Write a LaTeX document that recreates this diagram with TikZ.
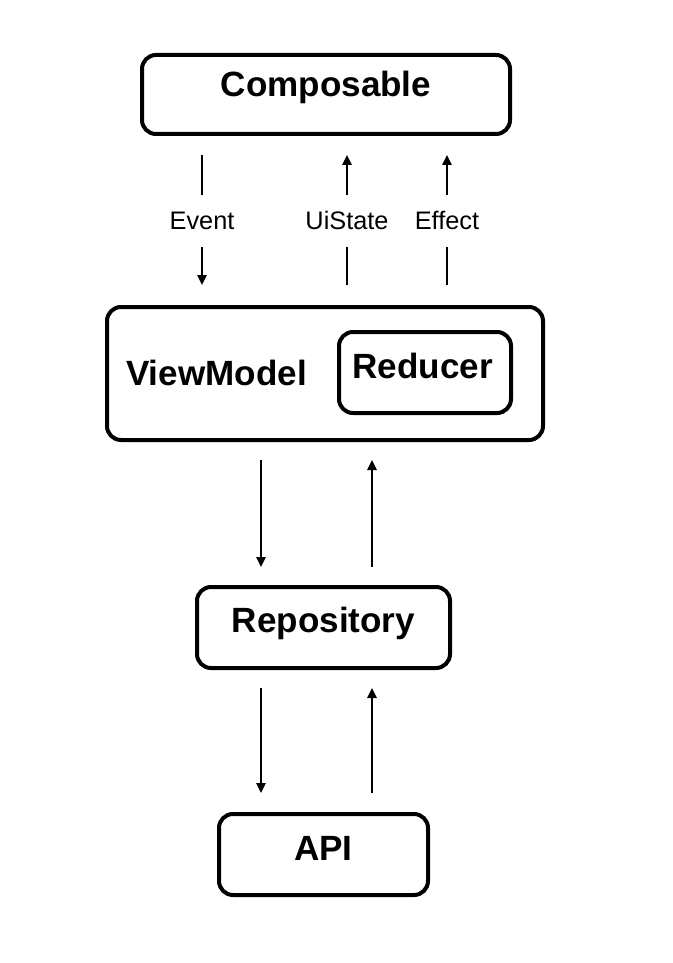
\documentclass[tikz,border=0pt]{standalone}
\usepackage{fontspec}
\setmainfont{Liberation Sans}
\usetikzlibrary{arrows.meta}
\begin{document}
\begin{tikzpicture}[x=0.75pt,y=-0.75pt,
  box/.style={draw, line width=3pt, rounded corners=10.5pt, inner sep=0pt},
  title/.style={font=\fontsize{26.3}{30}\selectfont\bfseries, anchor=base, inner sep=0pt},
  flow/.style={-{Triangle[width=7pt,length=7.5pt]}, line width=1.4pt},
  tag/.style={font=\fontsize{19}{22}\selectfont, fill=white, inner sep=0pt, minimum height=39pt}]
\useasboundingbox (0,0) rectangle (672,963);

% boxes
\node[box, minimum width=276pt, minimum height=59.25pt] (comp) at (326,94.5) {};
\node[box, minimum width=327pt, minimum height=99.75pt] (vm) at (325,373.5) {};
\node[box, minimum width=129pt, minimum height=60.75pt] (red) at (425,372.5) {};
\node[box, minimum width=189.75pt, minimum height=60.75pt] (repo) at (323.5,627.5) {};
\node[box, minimum width=156.75pt, minimum height=60.75pt] (api) at (323.5,854.5) {};

% box titles
\node[title] (compt) at (326,97) {Composable};
\node[title] (vmt) at (216.5,385) {ViewModel};
\node[title] (redt) at (422.5,378) {Reducer};
\node[title] (repot) at (323.5,632) {Repository};
\node[title] (apit) at (323.5,860) {API};

% connector columns
\coordinate (xe) at (202,0);
\coordinate (xu) at (347,0);
\coordinate (xf) at (447,0);
\coordinate (xd) at (261,0);
\coordinate (xr) at (372,0);

% Composable <-> ViewModel
\draw[flow, shorten <=14.25pt, shorten >=15pt] (comp.south -| xe) -- node[tag] (ev) {Event} (vm.north -| xe);
\draw[flow, shorten <=15pt, shorten >=14.25pt] (vm.north -| xu) -- node[tag] (ui) {UiState} (comp.south -| xu);
\draw[flow, shorten <=15pt, shorten >=14.25pt] (vm.north -| xf) -- node[tag] (ef) {Effect} (comp.south -| xf);

% ViewModel <-> Repository
\draw[flow, shorten <=13.5pt, shorten >=13.5pt] (vm.south -| xd) -- (repo.north -| xd);
\draw[flow, shorten <=13.5pt, shorten >=13.5pt] (repo.north -| xr) -- (vm.south -| xr);

% Repository <-> API
\draw[flow, shorten <=13.5pt, shorten >=14.25pt] (repo.south -| xd) -- (api.north -| xd);
\draw[flow, shorten <=14.25pt, shorten >=13.5pt] (api.north -| xr) -- (repo.south -| xr);
\end{tikzpicture}
\end{document}
